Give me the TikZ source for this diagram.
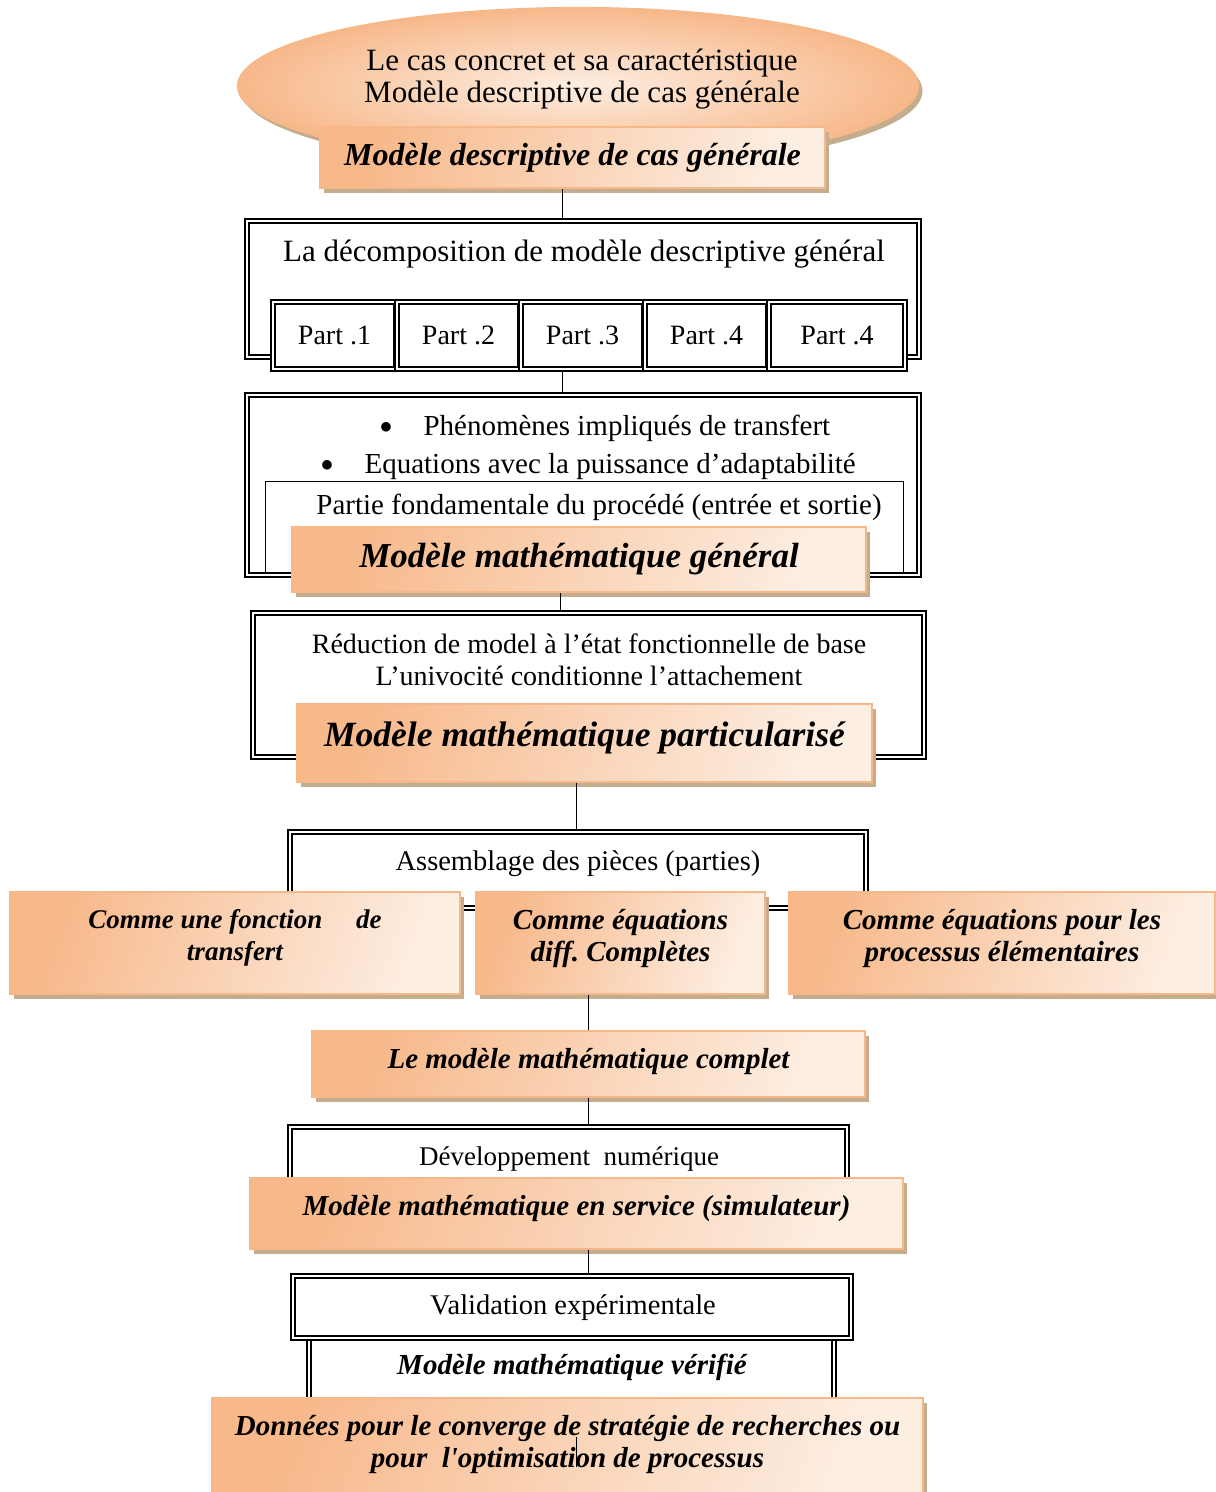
\documentclass[tikz,border=0pt]{standalone}
\usepackage{fontspec}
\setmainfont{Liberation Serif}
\usetikzlibrary{shapes,shapes.geometric,shadows,calc,positioning,backgrounds}
\frenchspacing

\definecolor{orangeline}{RGB}{246,184,136}
\definecolor{orangedark}{RGB}{247,184,138}
\definecolor{orangelight}{RGB}{253,238,226}
\definecolor{shadowbrown}{RGB}{196,172,142}

\tikzset{
  frame/.style={draw, double, line width=1.6pt, double distance=2.4pt},
  txt/.style={font=\fontsize{#1}{32}\selectfont, align=center},
  txt/.default=29,
  btxt/.style={font=\fontsize{#1}{32}\bfseries\itshape\selectfont, align=center},
  btxt/.default=29,
  orangebox/.style={rectangle, draw=orangeline, line width=1.5pt,
    left color=orangedark, right color=orangelight, shading angle=70,
    drop shadow={shadow xshift=4pt, shadow yshift=-5pt, fill=shadowbrown, opacity=1}},
}

\begin{document}
\begin{tikzpicture}[x=1pt,y=-1pt]
        \useasboundingbox (0,0) rectangle (1216,1492);
        %\draw [help lines] (0,0) grid[step=100] (1216,1492);

        % axes of the connectors
        \coordinate (ax1) at (562,0);
        \coordinate (ax2) at (560,0);
        \coordinate (ax3) at (576,0);
        \coordinate (ax4) at (588,0);

        % le cas concret
        \node [ellipse, draw=orangeline, line width=1.2pt, inner color=orangelight, outer color=orangedark,
               drop shadow={shadow xshift=4pt, shadow yshift=-5pt, fill=shadowbrown, opacity=1},
               minimum width=681pt, minimum height=157pt] (cas) at (578,86) {};
        \node [txt=31, text depth=0pt] (castext) at (582,76) {Le cas concret et sa caractéristique\\ Modèle descriptive de cas générale};
        \node [orangebox, minimum width=505pt, minimum height=61pt, btxt=32] (desc) at (572.5,157.5) {Modèle descriptive de cas générale};

        % decomposition
        \node [frame, minimum width=672pt, minimum height=136pt] (decomp) at (583,289) {};
        \node [txt=31] (decomptext) at (584,254) {La décomposition de modèle descriptive général};
        \foreach \i/\cx/\w/\lbl in {1/334.5/123/Part .1, 2/458.5/123/Part .2, 3/582.5/123/Part .3, 4/706.5/123/Part .4, 5/837/136/Part .4}
            \node [frame, fill=white, minimum width=\w pt, minimum height=67pt, txt=28] (p\i) at (\cx,335.5) {\lbl};

        \draw (desc.south -| ax1) -- (decomp.north -| ax1);

        % phenomenes
        \node [frame, minimum width=672pt, minimum height=180pt] (phen) at (583,485) {};
        \node [txt] (b1) at (386,428) {$\bullet$};
        \node [txt, anchor=west] (phen1) at (420,428) {Phénomènes impliqués de transfert};
        \node [txt] (b2) at (327,466) {$\bullet$};
        \node [txt, anchor=west] (phen2) at (361,466) {Equations avec la puissance d’adaptabilité};
        \node [draw, line width=0.6pt, fill=white, minimum width=638pt, minimum height=91pt] (fond) at (584,526.5) {};
        \node [txt] (fondtext) at (599,507) {Partie fondamentale du procédé (entrée et sortie)};
        \node [orangebox, minimum width=574pt, minimum height=65pt, btxt=35] (general) at (579,559.5) {Modèle mathématique général};

        \draw (p3.south -| ax1) -- (phen.north -| ax1);

        % reduction
        \node [frame, minimum width=671pt, minimum height=144pt] (reduc) at (588.5,685) {};
        \node [txt=28] (reductext) at (589,660) {Réduction de model à l’état fonctionnelle de base\\ L’univocité conditionne l’attachement};
        \node [orangebox, minimum width=575pt, minimum height=78pt, btxt=35.5, text depth=18pt] (partic) at (584.5,743) {Modèle mathématique particularisé};

        \draw (general.south -| ax2) -- (reduc.north -| ax2);

        % assemblage
        \node [frame, minimum width=576pt, minimum height=76pt] (assemb) at (578,870) {};
        \node [txt=28.5] (assembtext) at (578,864) {Assemblage des pièces (parties)};
        \node [orangebox, minimum width=450pt, minimum height=102pt, btxt=27, text depth=16pt] (transf) at (235,943) {Comme une fonction \quad de\\ transfert};
        \node [orangebox, minimum width=289pt, minimum height=102pt, btxt=29, text depth=16pt] (diff) at (620.5,943) {Comme équations\\ diff. Complètes};
        \node [orangebox, minimum width=426pt, minimum height=102pt, btxt=29, text depth=16pt] (elem) at (1002,943) {Comme équations pour les\\ processus élémentaires};

        \draw (partic.south -| ax3) -- (assemb.north -| ax3);

        % modele complet
        \node [orangebox, minimum width=553pt, minimum height=66pt, btxt=29, text depth=12pt] (complet) at (588.5,1064) {Le modèle mathématique complet};
        \draw (diff.south -| ax4) -- (complet.north -| ax4);

        % developpement
        \node [frame, minimum width=557pt, minimum height=63pt] (devel) at (568.5,1158.5) {};
        \node [txt=27] (develtext) at (569,1159) {Développement \ numérique};
        \node [orangebox, minimum width=653pt, minimum height=71pt, btxt=29, text depth=16pt] (service) at (576.5,1213.5) {Modèle mathématique en service (simulateur)};
        \draw (complet.south -| ax4) -- (devel.north -| ax4);

        % validation
        \node [frame, minimum width=525pt, minimum height=72pt] (verif) at (571.5,1374) {};
        \node [frame, fill=white, minimum width=558pt, minimum height=62pt] (valid) at (572,1307) {};
        \node [txt=28.5] (validtext) at (573,1308) {Validation expérimentale};
        \node [btxt] (veriftext) at (572,1367) {Modèle mathématique vérifié};
        \draw (service.south -| ax4) -- (valid.north -| ax4);

        % donnees
        \node [orangebox, minimum width=711pt, minimum height=102pt, btxt=29, text depth=16pt] (donnees) at (567.5,1449) {Données pour le converge de stratégie de recherches ou\\ pour \ l\textquotesingle optimisation de processus};
        \coordinate (tick1) at (576,1437);
        \coordinate (tick2) at (576,1467);
        \draw (tick1) -- (tick2);

\end{tikzpicture}
\end{document}
